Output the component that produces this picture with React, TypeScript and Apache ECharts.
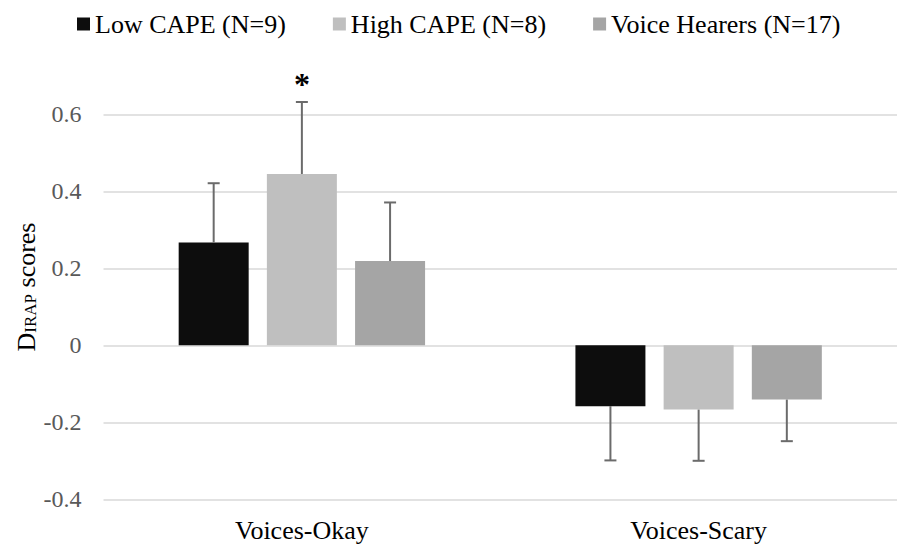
import React, { useEffect, useRef } from 'react';
import * as echarts from 'echarts';

const categories = ['Voices-Okay', 'Voices-Scary'];
const groupNames = ['Low CAPE (N=9)', 'High CAPE (N=8)', 'Voice Hearers (N=17)'];
const lowCapeMeans = [0.267, -0.158];
const highCapeMeans = [0.445, -0.167];
const voiceHearerMeans = [0.219, -0.141];
const lowCapeErrors = [0.154, 0.141];
const highCapeErrors = [0.187, 0.133];
const voiceHearerErrors = [0.152, 0.108];
const significance = [['', ''], ['*', ''], ['', '']];
const yMin = -0.4;
const yMax = 0.6;
const yInterval = 0.2;

const COLORS = ['#0d0d0d', '#bfbfbf', '#a5a5a5'];
const ERR_COLOR = '#6b6b6b';
const FONT = "'Times New Roman', 'Liberation Serif', serif";
const BAR_WIDTH = 70;
const BAR_GAP = 0.26;

export default function App() {
  const ref = useRef<HTMLDivElement>(null);
  useEffect(() => {
    if (!ref.current) return;
    const chart = echarts.init(ref.current, undefined, { renderer: 'svg' });
    const means = [lowCapeMeans, highCapeMeans, voiceHearerMeans];
    const errs = [lowCapeErrors, highCapeErrors, voiceHearerErrors];
    const errRows: number[][] = [];
    means.forEach((arr, g) => arr.forEach((m, c) => errRows.push([c, g, m, errs[g][c]])));

    const option: any = {
      animation: false,
      backgroundColor: '#fff',
      textStyle: { fontFamily: FONT },
      legend: {
        data: groupNames,
        left: 72,
        top: 5,
        icon: 'rect',
        itemWidth: 13,
        itemHeight: 13,
        itemGap: 47,
        textStyle: { fontFamily: FONT, fontSize: 26, color: '#000', lineHeight: 28 },
      },
      grid: { left: 103.5, top: 114.3, width: 800, height: 385 },
      xAxis: {
        type: 'category',
        data: categories,
        axisLine: { show: false, onZero: false },
        axisTick: { show: false },
        splitLine: { show: false },
        axisLabel: { fontFamily: FONT, fontSize: 26, color: '#000', margin: 18 },
      },
      yAxis: {
        type: 'value',
        min: yMin,
        max: yMax,
        interval: yInterval,
        axisLine: { show: false },
        axisTick: { show: false },
        splitLine: { lineStyle: { color: '#d9d9d9', width: 1.5 } },
        axisLabel: {
          fontFamily: FONT,
          fontSize: 24,
          color: '#595959',
          margin: 22,
          formatter: (v: number) => (Math.abs(v) < 1e-9 ? '0' : v.toFixed(1)),
        },
      },
      graphic: [
        {
          type: 'text',
          x: 24,
          y: 287,
          rotation: Math.PI / 2,
          style: {
            text: '{a|D}{b|IRAP}{a| scores}',
            align: 'center',
            verticalAlign: 'middle',
            fill: '#000',
            rich: {
              a: { fontFamily: FONT, fontSize: 26, lineHeight: 30, verticalAlign: 'bottom', fill: '#000' },
              b: { fontFamily: FONT, fontSize: 17, lineHeight: 30, verticalAlign: 'bottom', fill: '#000' },
            },
          },
        },
      ],
      series: [
        ...groupNames.map((name, g) => ({
          type: 'bar',
          name,
          data: means[g],
          barWidth: BAR_WIDTH,
          barGap: `${BAR_GAP * 100}%`,
          itemStyle: { color: COLORS[g] },
          z: 2,
        })),
        {
          type: 'custom',
          data: errRows,
          encode: { x: 0, y: 2 },
          z: 5,
          silent: true,
          renderItem: (params: any, api: any) => {
            const c = api.value(0);
            const g = api.value(1);
            const m = api.value(2);
            const e = api.value(3);
            const dir = m >= 0 ? 1 : -1;
            const p0 = api.coord([c, m]);
            const p1 = api.coord([c, m + dir * e]);
            const x = p0[0] + (g - 1) * BAR_WIDTH * (1 + BAR_GAP);
            const st = { stroke: ERR_COLOR, lineWidth: 2 };
            const children: any[] = [
              { type: 'line', shape: { x1: x, y1: p0[1], x2: x, y2: p1[1] }, style: st },
              { type: 'line', shape: { x1: x - 6, y1: p1[1], x2: x + 6, y2: p1[1] }, style: st },
            ];
            const sig = significance[g][c];
            if (sig) {
              children.push({
                type: 'text',
                x,
                y: p1[1] - 18,
                style: {
                  text: sig,
                  fontFamily: FONT,
                  fontWeight: 'bold',
                  fontSize: 32,
                  fill: '#000',
                  align: 'center',
                  verticalAlign: 'middle',
                },
              });
            }
            return { type: 'group', children };
          },
        },
      ],
    };
    chart.setOption(option);
    return () => chart.dispose();
  }, []);
  return (
    <div
      ref={ref}
      style={{ position: 'fixed', left: 0, top: 0, width: 897, height: 548, background: '#fff' }}
    />
  );
}
